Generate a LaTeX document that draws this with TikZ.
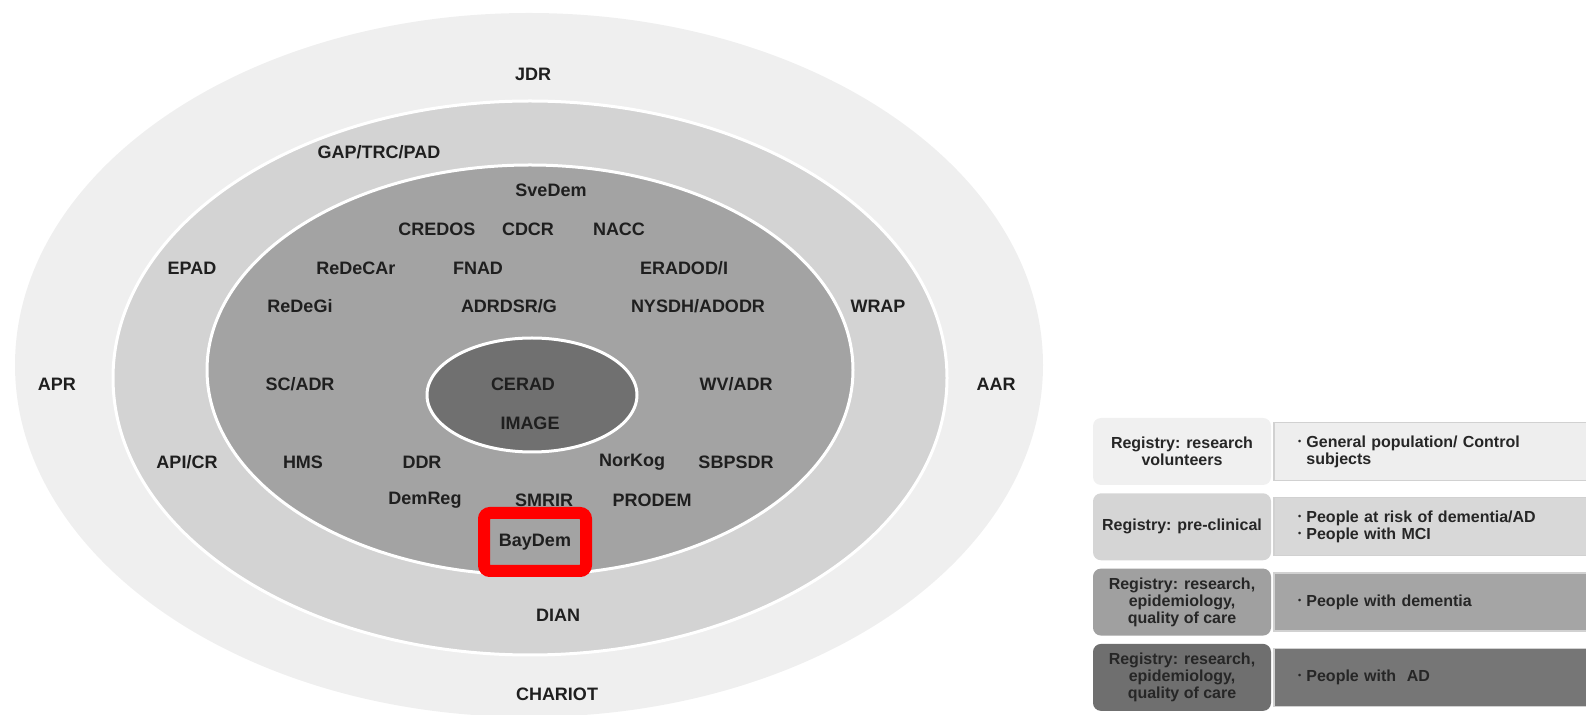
\documentclass[tikz,border=0pt]{standalone}
\usepackage{fontspec}
\setmainfont{Liberation Sans}
\usetikzlibrary{positioning}

\definecolor{ringA}{HTML}{EFEFEF}
\definecolor{ringB}{HTML}{D3D3D3}
\definecolor{ringC}{HTML}{A3A3A3}
\definecolor{ringD}{HTML}{707070}
\definecolor{boxA}{HTML}{F0F0F0}
\definecolor{boxB}{HTML}{D5D5D5}
\definecolor{boxC}{HTML}{A0A0A0}
\definecolor{boxD}{HTML}{6F6F6F}
\definecolor{bandA}{HTML}{EEEEEE}
\definecolor{bandB}{HTML}{D8D8D8}
\definecolor{bandC}{HTML}{A5A5A5}
\definecolor{bandD}{HTML}{767676}

\newcommand{\bpt}{\makebox[4.2pt][l]{\raisebox{0.35ex}{\fontsize{4.5}{4.5}\selectfont\textbullet}}}
\newcommand{\bsk}{\hspace*{4.2pt}}

\tikzset{
  reg/.style={font=\bfseries\fontsize{9}{10}\selectfont, text=black!88, inner sep=0pt},
  regbox/.style={rounded corners=4pt, align=center, minimum width=89pt, minimum height=33.5pt,
    inner sep=0pt, font=\bfseries\fontsize{8}{8.6}\selectfont, text=black!85},
  band/.style={minimum height=29pt, text width=132.5pt, inner xsep=12pt, inner ysep=0pt,
    align=left, draw=black!18, line width=0.6pt, font=\bfseries\fontsize{8}{8.6}\selectfont, text=black!85},
  ring/.style={draw=white, line width=1.5pt}
}

\begin{document}
\begin{tikzpicture}[x=0.5pt, y=-0.5pt]

  \useasboundingbox (0,0) rectangle (1586,715);

  % Rings
  \fill[ringA] (529,365) ellipse (514 and 352);
  \filldraw[ring, fill=ringB] (530,378) ellipse (417 and 277);
  \filldraw[ring, fill=ringC] (530,370) ellipse (323 and 205);
  \filldraw[ring, fill=ringD] (532,395) ellipse (105 and 57);

  % Define nodes
  \node[reg] (jdr) at (533,74) {JDR};
  \node[reg] (gap) at (379,152) {GAP/TRC/PAD};
  \node[reg] (svedem) at (551,190) {SveDem};
  \node[reg] (credos) at (437,229) {CREDOS};
  \node[reg] (cdcr) at (528,229) {CDCR};
  \node[reg] (nacc) at (619,229) {NACC};
  \node[reg] (epad) at (192,268) {EPAD};
  \node[reg] (redecar) at (356,268) {ReDeCAr};
  \node[reg] (fnad) at (478,268) {FNAD};
  \node[reg] (eradod) at (684,268) {ERADOD/I};
  \node[reg] (redegi) at (300,306) {ReDeGi};
  \node[reg] (adrdsr) at (509,306) {ADRDSR/G};
  \node[reg] (nysdh) at (698,306) {NYSDH/ADODR};
  \node[reg] (wrap) at (878,306) {WRAP};
  \node[reg] (apr) at (57,384) {APR};
  \node[reg] (scadr) at (300,384) {SC/ADR};
  \node[reg] (cerad) at (523,384) {CERAD};
  \node[reg] (wvadr) at (736,384) {WV/ADR};
  \node[reg] (aar) at (996,384) {AAR};
  \node[reg] (image) at (530,423) {IMAGE};
  \node[reg] (apicr) at (187,462) {API/CR};
  \node[reg] (hms) at (303,462) {HMS};
  \node[reg] (ddr) at (422,462) {DDR};
  \node[reg] (norkog) at (632,462) {NorKog};
  \node[reg] (sbpsdr) at (736,462) {SBPSDR};
  \node[reg] (demreg) at (425,500) {DemReg};
  \node[reg] (smrir) at (544,500) {SMRIR};
  \node[reg] (prodem) at (652,500) {PRODEM};
  \node[reg, draw=red, line width=6pt, rounded corners=3pt, minimum width=51pt, minimum height=29pt] (baydem) at (535,542) {BayDem};
  \node[reg] (dian) at (558,615) {DIAN};
  \node[reg] (chariot) at (557,694) {CHARIOT};

  % Legend
  \node[regbox, fill=boxA] (volbox) at (1182,451.5) {Registry: research\\volunteers};
  \node[regbox, fill=boxB, below=3.75pt of volbox] (prebox) {Registry: pre-clinical};
  \node[regbox, fill=boxC, below=3.75pt of prebox] (epibox) {Registry: research,\\epidemiology,\\quality of care};
  \node[regbox, fill=boxD, below=3.75pt of epibox] (adbox) {Registry: research,\\epidemiology,\\quality of care};

  \node[band, fill=bandA, right=1pt of volbox] (volband) {\bpt General population/ Control\\\bsk subjects};
  \node[band, fill=bandB, right=1pt of prebox] (preband) {\bpt People at risk of dementia/AD\\\bpt People with MCI};
  \node[band, fill=bandC, right=1pt of epibox] (epiband) {\bpt People with dementia};
  \node[band, fill=bandD, right=1pt of adbox] (adband) {\bpt People with~ AD};

\end{tikzpicture}
\end{document}
